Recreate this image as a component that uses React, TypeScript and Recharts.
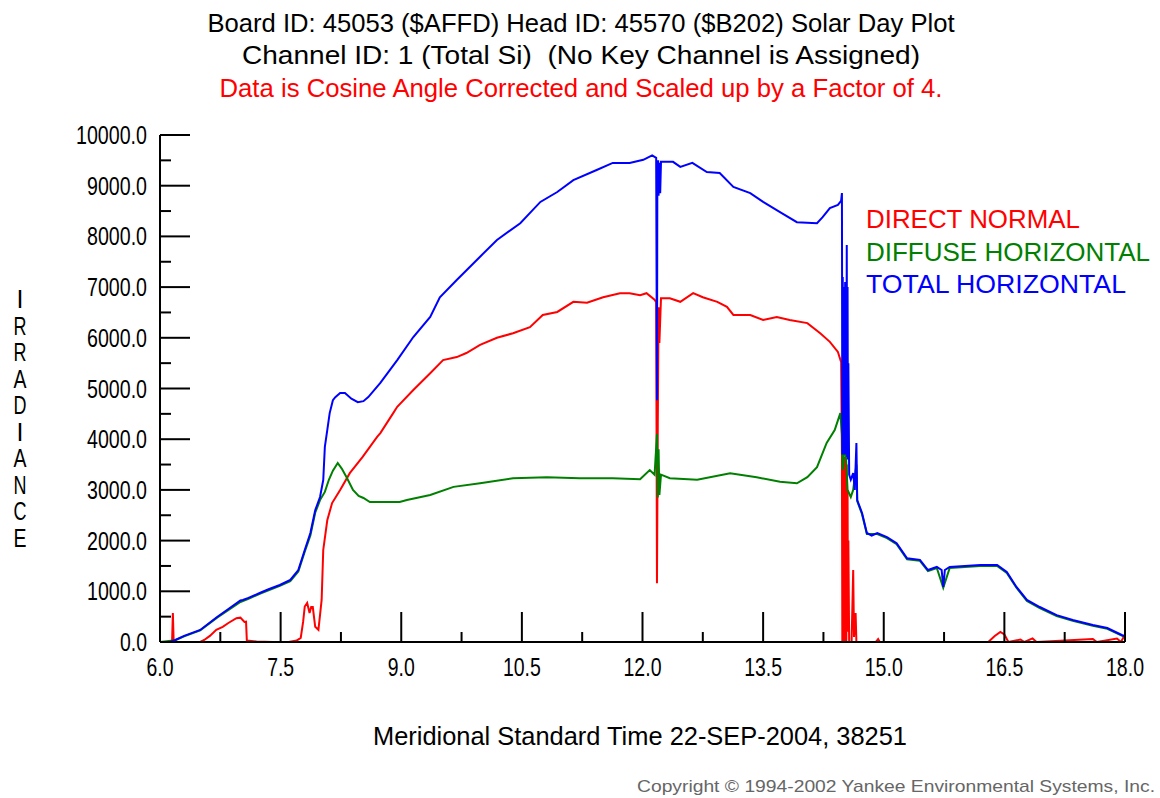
import React from "react";
import { Line, LineChart, XAxis, YAxis } from "recharts";

// [hour, irradiance] pairs
const directNormal: [number, number][] = [
  [6.0, 0], [6.15, 0], [6.16, 570], [6.17, 0], [6.5, 0], [6.55, 40], [6.62, 120], [6.7, 240],
  [6.78, 300], [6.85, 375], [6.95, 470], [7.0, 480], [7.05, 395], [7.07, 400], [7.08, 30],
  [7.2, 10], [7.4, 0], [7.6, 0], [7.7, 30], [7.75, 80], [7.78, 400], [7.8, 700], [7.83, 770],
  [7.86, 570], [7.88, 690], [7.9, 690], [7.93, 300], [7.97, 240], [8.01, 830], [8.03, 1815],
  [8.08, 2400], [8.14, 2740], [8.24, 3000], [8.36, 3330], [8.52, 3650], [8.7, 4045],
  [8.74, 4120], [8.9, 4515], [8.95, 4640], [9.15, 4970], [9.36, 5300], [9.52, 5560],
  [9.69, 5620], [9.81, 5700], [9.98, 5860], [10.19, 6000], [10.39, 6090], [10.6, 6210],
  [10.76, 6450], [10.94, 6510], [11.14, 6710], [11.31, 6690], [11.51, 6800], [11.72, 6880],
  [11.84, 6880], [11.97, 6840], [12.05, 6880], [12.15, 6750], [12.17, 6700], [12.18, 1160],
  [12.19, 4300], [12.2, 6600], [12.21, 5900], [12.23, 6780], [12.34, 6780], [12.47, 6710],
  [12.63, 6880], [12.75, 6800], [12.93, 6710], [13.05, 6610], [13.13, 6450], [13.34, 6450],
  [13.5, 6350], [13.67, 6410], [13.83, 6350], [14.05, 6290], [14.21, 6090], [14.33, 5920],
  [14.43, 5720], [14.47, 5520], [14.48, 3650], [14.485, 0], [14.49, 3650], [14.495, 0],
  [14.5, 3650], [14.505, 0], [14.51, 3600], [14.515, 0], [14.52, 3650], [14.525, 100],
  [14.53, 3500], [14.535, 0], [14.54, 3500], [14.545, 200], [14.55, 3000], [14.555, 300],
  [14.56, 2000], [14.57, 0], [14.6, 0], [14.62, 1420], [14.63, 100], [14.65, 570], [14.66, 0],
  [14.9, 0], [14.93, 60], [14.95, 0], [16.3, 0], [16.38, 120], [16.45, 200], [16.5, 150],
  [16.55, 0], [16.7, 50], [16.75, 0], [16.85, 70], [16.9, 0], [17.6, 60], [17.65, 0],
  [17.9, 70], [17.95, 0], [18.0, 150],
];

const diffuseHorizontal: [number, number][] = [
  [6.0, 0], [6.19, 35], [6.3, 110], [6.5, 230], [6.71, 480], [7.0, 790], [7.1, 850],
  [7.24, 950], [7.49, 1110], [7.62, 1200], [7.72, 1390], [7.8, 1780], [7.87, 2100],
  [7.93, 2550], [7.99, 2800], [8.05, 2960], [8.1, 3200], [8.15, 3380], [8.21, 3530],
  [8.26, 3420], [8.32, 3250], [8.4, 3000], [8.47, 2880], [8.53, 2840], [8.61, 2760],
  [8.8, 2760], [8.98, 2760], [9.07, 2800], [9.36, 2900], [9.65, 3060], [9.98, 3130],
  [10.39, 3230], [10.81, 3250], [11.22, 3230], [11.63, 3230], [11.97, 3210], [12.09, 3390],
  [12.15, 3300], [12.18, 4100], [12.19, 2850], [12.2, 3800], [12.21, 2900], [12.23, 3300],
  [12.34, 3230], [12.68, 3200], [13.09, 3330], [13.42, 3250], [13.71, 3160], [13.92, 3130],
  [14.05, 3250], [14.17, 3450], [14.29, 3925], [14.39, 4180], [14.46, 4515], [14.48, 4100],
  [14.49, 3400], [14.52, 4000], [14.55, 3000], [14.59, 2860], [14.62, 3000], [14.66, 3500],
  [14.67, 2780], [14.73, 2520], [14.79, 2130], [14.92, 2130], [15.04, 2050], [15.16, 1930],
  [15.29, 1630], [15.45, 1600], [15.55, 1400], [15.66, 1460], [15.74, 1070], [15.82, 1460],
  [16.2, 1500], [16.41, 1500], [16.53, 1360], [16.65, 1070], [16.78, 810], [16.94, 670],
  [17.15, 510], [17.35, 420], [17.6, 320], [17.78, 260], [17.96, 125], [18.0, 100],
];

const totalHorizontal: [number, number][] = [
  [6.0, 0], [6.12, 0], [6.19, 40], [6.3, 120], [6.5, 237], [6.71, 493], [6.85, 650],
  [7.0, 820], [7.03, 830], [7.1, 870], [7.24, 966], [7.35, 1040], [7.49, 1124], [7.62, 1223],
  [7.72, 1420], [7.8, 1815], [7.87, 2150], [7.93, 2600], [7.99, 2860], [8.03, 3195],
  [8.05, 3850], [8.08, 4180], [8.11, 4515], [8.15, 4770], [8.18, 4830], [8.24, 4910],
  [8.3, 4910], [8.38, 4800], [8.46, 4730], [8.53, 4750], [8.59, 4830], [8.74, 5110],
  [8.95, 5560], [9.15, 6015], [9.36, 6410], [9.48, 6800], [9.69, 7140], [9.98, 7600],
  [10.19, 7930], [10.48, 8260], [10.73, 8680], [10.94, 8875], [11.14, 9110], [11.43, 9310],
  [11.63, 9450], [11.84, 9450], [12.01, 9510], [12.12, 9600], [12.17, 9550], [12.18, 4770],
  [12.185, 9500], [12.19, 8800], [12.195, 9500], [12.2, 8800], [12.205, 9450], [12.21, 8900],
  [12.215, 9450], [12.22, 8850], [12.23, 9470], [12.26, 9470], [12.38, 9470], [12.47, 9370],
  [12.62, 9450], [12.8, 9270], [12.96, 9250], [13.13, 8975], [13.34, 8855], [13.5, 8680],
  [13.71, 8480], [13.92, 8280], [14.17, 8260], [14.24, 8380], [14.33, 8560], [14.43, 8620],
  [14.47, 8700], [14.48, 8855], [14.485, 3700], [14.49, 7200], [14.495, 3800], [14.5, 6900],
  [14.505, 3700], [14.51, 7000], [14.515, 3900], [14.52, 7100], [14.525, 3700], [14.53, 7000],
  [14.535, 4000], [14.54, 7830], [14.545, 3650], [14.55, 7000], [14.555, 3600], [14.56, 5500],
  [14.57, 3300], [14.59, 3200], [14.62, 3330], [14.64, 3000], [14.66, 3925], [14.67, 2800],
  [14.73, 2545], [14.79, 2150], [14.85, 2100], [14.92, 2150], [15.04, 2070], [15.16, 1950],
  [15.29, 1650], [15.45, 1620], [15.55, 1420], [15.66, 1480], [15.72, 1420], [15.74, 1085],
  [15.76, 1420], [15.82, 1480], [16.2, 1520], [16.41, 1520], [16.53, 1380], [16.65, 1085],
  [16.78, 830], [16.94, 690], [17.15, 530], [17.35, 434], [17.6, 335], [17.78, 276],
  [17.96, 138], [18.0, 110],
];

const xTicks = [6, 6.75, 7.5, 8.25, 9, 9.75, 10.5, 11.25, 12, 12.75, 13.5, 14.25, 15, 15.75, 16.5, 17.25, 18];
const yTicks = [0, 500, 1000, 1500, 2000, 2500, 3000, 3500, 4000, 4500, 5000, 5500, 6000, 6500, 7000, 7500, 8000, 8500, 9000, 9500, 10000];

const titleLines = [
  "Board ID: 45053 ($AFFD) Head ID: 45570 ($B202) Solar Day Plot",
  "Channel ID: 1 (Total Si)\u00a0 (No Key Channel is Assigned)",
  "Data is Cosine Angle Corrected and Scaled up by a Factor of 4.",
];
const legendItems = [
  { name: "DIRECT NORMAL", color: "#ff0000" },
  { name: "DIFFUSE HORIZONTAL", color: "#008000" },
  { name: "TOTAL HORIZONTAL", color: "#0000ff" },
];
const yTitle = "IRRADIANCE";
const xTitle = "Meridional Standard Time 22-SEP-2004, 38251";
const copyright = "Copyright \u00a9 1994-2002 Yankee Environmental Systems, Inc.";

const FONT = '"Liberation Sans", Arial, sans-serif';
const LEFT = 160;
const BOTTOM = 642;

const toRows = (pairs: [number, number][]) => pairs.map(([t, v]) => ({ t, v }));
const numWidth = (s: string) => [...s].reduce((w, c) => w + (c === "." ? 5 : 11), 0);

const XTick = (props: any) => {
  const { x, payload } = props;
  const major = Math.round(payload.value * 100) % 150 === 0;
  const label = payload.value.toFixed(1);
  return (
    <g>
      <line x1={x} x2={x} y1={BOTTOM} y2={BOTTOM - (major ? 30 : 10)} stroke="#000" strokeWidth={2} />
      {major && (
        <text x={x} y={676} textAnchor="middle" fontFamily={FONT} fontSize={25} fill="#000"
          textLength={numWidth(label)} lengthAdjust="spacingAndGlyphs">
          {label}
        </text>
      )}
    </g>
  );
};

const YTick = (props: any) => {
  const { y, payload } = props;
  const major = payload.value % 1000 === 0;
  const label = payload.value.toFixed(1);
  return (
    <g>
      <line x1={LEFT} x2={LEFT + (major ? 30 : 11)} y1={y} y2={y} stroke="#000" strokeWidth={2} />
      {major && (
        <text x={147} y={y + 9} textAnchor="end" fontFamily={FONT} fontSize={25} fill="#000"
          textLength={numWidth(label)} lengthAdjust="spacingAndGlyphs">
          {label}
        </text>
      )}
    </g>
  );
};

export default function App() {
  return (
    <div style={{ position: "absolute", left: 0, top: 0, width: 1160, height: 798, background: "#fff" }}>
      <LineChart width={1160} height={798} margin={{ top: 135, right: 35, bottom: 116, left: 10 }}>
        <XAxis
          type="number"
          dataKey="t"
          domain={[6, 18]}
          ticks={xTicks}
          interval={0}
          height={40}
          tickLine={false}
          axisLine={{ stroke: "#000", strokeWidth: 2 }}
          tick={<XTick />}
          allowDataOverflow
        />
        <YAxis
          type="number"
          domain={[0, 10000]}
          ticks={yTicks}
          interval={0}
          width={150}
          tickLine={false}
          axisLine={{ stroke: "#000", strokeWidth: 2 }}
          tick={<YTick />}
          allowDataOverflow
        />
        <Line data={toRows(directNormal)} dataKey="v" type="linear" stroke="#ff0000" strokeWidth={2}
          dot={false} activeDot={false} isAnimationActive={false} />
        <Line data={toRows(diffuseHorizontal)} dataKey="v" type="linear" stroke="#008000" strokeWidth={2}
          dot={false} activeDot={false} isAnimationActive={false} />
        <Line data={toRows(totalHorizontal)} dataKey="v" type="linear" stroke="#0000ff" strokeWidth={2}
          dot={false} activeDot={false} isAnimationActive={false} />
      </LineChart>
      <svg width={1160} height={798} style={{ position: "absolute", left: 0, top: 0, pointerEvents: "none" }}>
        <g fontFamily={FONT} fontSize={25}>
          <text x={581} y={32} textAnchor="middle" fill="#000" textLength={747} lengthAdjust="spacingAndGlyphs">{titleLines[0]}</text>
          <text x={581} y={64} textAnchor="middle" fill="#000" textLength={678} lengthAdjust="spacingAndGlyphs">{titleLines[1]}</text>
          <text x={581} y={97} textAnchor="middle" fill="#ff0000" textLength={723} lengthAdjust="spacingAndGlyphs">{titleLines[2]}</text>
          {legendItems.map((item, i) => (
            <text key={item.name} x={866} y={228 + i * 32.5} fill={item.color}
              textLength={[214, 284, 260][i]} lengthAdjust="spacingAndGlyphs">
              {item.name}
            </text>
          ))}
          {[...yTitle].map((ch, i) => (
            <text key={i} x={20} y={308 + i * 26.5} textAnchor="middle" fill="#000"
              {...(ch === "I" ? {} : { textLength: 13, lengthAdjust: "spacingAndGlyphs" })}>
              {ch}
            </text>
          ))}
          <text x={640} y={745} textAnchor="middle" fill="#000" textLength={534} lengthAdjust="spacingAndGlyphs">{xTitle}</text>
        </g>
        <text x={637} y={792} fontFamily={FONT} fontSize={17} fill="#666" textLength={518} lengthAdjust="spacingAndGlyphs">{copyright}</text>
      </svg>
    </div>
  );
}
